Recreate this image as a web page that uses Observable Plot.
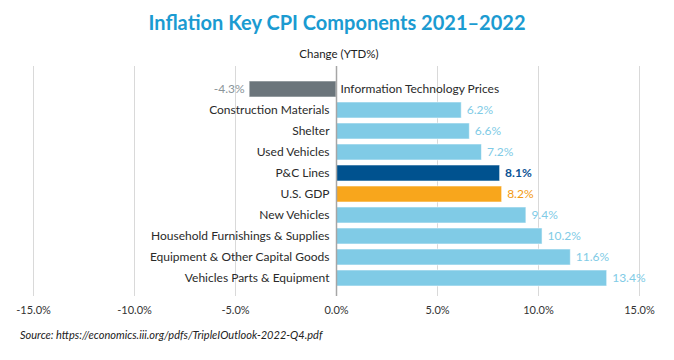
<!DOCTYPE html>
<html>
<head>
<meta charset="utf-8">
<script src="https://cdn.jsdelivr.net/npm/d3@7"></script>
<script src="https://cdn.jsdelivr.net/npm/@observablehq/plot@0.6"></script>
<style>
  html, body { margin: 0; padding: 0; background: #fff; }
  body { width: 674px; height: 360px; position: relative; font-family: Lato, "Open Sans", sans-serif; }
  #title { position: absolute; left: 0; width: 674px; top: 8px; text-align: center; font-size: 20px; font-weight: bold; color: #1b9bd1; line-height: 28px; }
  #subtitle { position: absolute; left: 0; width: 678px; top: 46px; text-align: center; font-size: 11.5px; color: #222; line-height: 16px; }
  #chart { position: absolute; left: 0; top: 66px; }
  #caption { position: absolute; left: 20px; top: 327px; font-size: 11px; font-style: italic; color: #222; line-height: 16px; }
</style>
</head>
<body>
<div id="title">Inflation Key CPI Components 2021–2022</div>
<div id="subtitle">Change (YTD%)</div>
<div id="chart"></div>
<div id="caption">Source: https://economics.iii.org/pdfs/TripleIOutlook-2022-Q4.pdf</div>
<script>
const categories = [
  "Information Technology Prices",
  "Construction Materials",
  "Shelter",
  "Used Vehicles",
  "P&C Lines",
  "U.S. GDP",
  "New Vehicles",
  "Household Furnishings & Supplies",
  "Equipment & Other Capital Goods",
  "Vehicles Parts & Equipment"
];
const values = [-4.3, 6.2, 6.6, 7.2, 8.1, 8.2, 9.4, 10.2, 11.6, 13.4];
const xTicks = [-15, -10, -5, 0, 5, 10, 15];

const highlight = { "P&C Lines": "pc", "U.S. GDP": "gdp" };
const data = categories.map((c, i) => ({
  category: c,
  value: values[i],
  group: values[i] < 0 ? "neg" : (highlight[c] || "base")
}));

const barFill = { neg: "#6b757b", base: "#80cbe6", pc: "#00528f", gdp: "#f8a61c" };
const labelFill = { neg: "#8a9499", base: "#80cbe6", pc: "#0b5394", gdp: "#f29a12" };
const fmt = v => d3.format(".1f")(v).replace("\u2212", "-") + "%";

const pos = data.filter(d => d.value >= 0);
const neg = data.filter(d => d.value < 0);

const chart = Plot.plot({
  width: 674,
  height: 260,
  marginLeft: 33,
  marginRight: 35,
  marginTop: 0,
  marginBottom: 30,
  style: { fontFamily: "Lato, 'Open Sans', sans-serif", background: "transparent" },
  x: { domain: [-15, 15], ticks: xTicks, label: null },
  y: { domain: categories, range: [12, 222], paddingInner: 0.26, paddingOuter: 0, axis: null },
  marks: [
    Plot.ruleX(xTicks.filter(d => d !== 0), { stroke: "#d9d9d9", strokeWidth: 1 }),
    Plot.barX(data, {
      x: "value", y: "category",
      fill: d => barFill[d.group],
      stroke: "#ffffff", strokeOpacity: 0.55, strokeWidth: 1
    }),
    Plot.ruleX([0], { stroke: "#a6a6a6", strokeWidth: 1.5 }),
    Plot.axisX({ ticks: xTicks, tickSize: 0, tickPadding: 10, fontSize: 11, color: "#333", label: null, tickFormat: fmt }),
    Plot.text(pos, {
      x: 0, y: "category", text: "category",
      textAnchor: "end", dx: -7, fontSize: 12, fill: "#2a2a2a"
    }),
    Plot.text(neg, {
      x: 0, y: "category", text: "category",
      textAnchor: "start", dx: 4, fontSize: 12, fill: "#2a2a2a"
    }),
    Plot.text(pos.filter(d => d.group !== "pc"), {
      x: "value", y: "category", text: d => fmt(d.value),
      textAnchor: "start", dx: 5, fontSize: 12,
      fill: d => labelFill[d.group]
    }),
    Plot.text(pos.filter(d => d.group === "pc"), {
      x: "value", y: "category", text: d => fmt(d.value),
      textAnchor: "start", dx: 5, fontSize: 12, fontWeight: "bold",
      fill: d => labelFill[d.group]
    }),
    Plot.text(neg, {
      x: "value", y: "category", text: d => fmt(d.value),
      textAnchor: "end", dx: -5, fontSize: 12,
      fill: d => labelFill[d.group]
    })
  ]
});
document.getElementById("chart").appendChild(chart);
</script>
</body>
</html>
